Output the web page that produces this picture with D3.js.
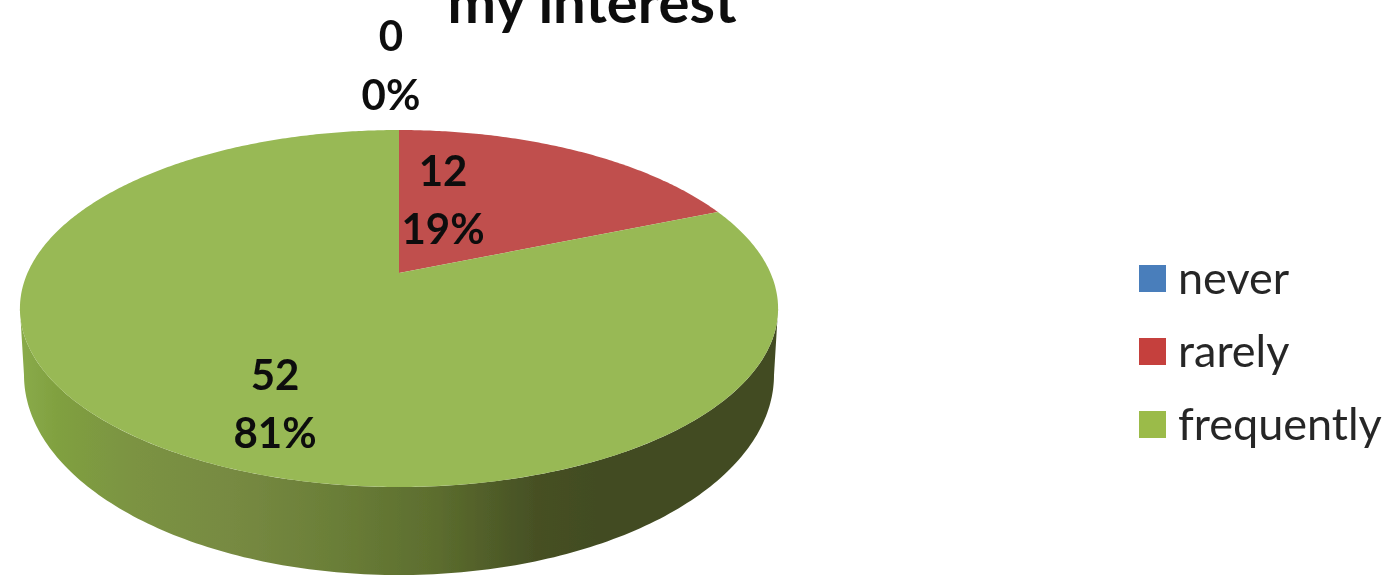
<!DOCTYPE html>
<html><head><meta charset="utf-8">
<script src="https://cdn.jsdelivr.net/npm/d3@7"></script>
<style>html,body{margin:0;padding:0;background:#fff;overflow:hidden}svg{display:block}text{font-family:Lato,"Open Sans",sans-serif;fill:#0b0b0b}</style>
</head><body><svg id="c" width="1393" height="578"></svg>
<script>
const categories = ["never", "rarely", "frequently"];
const values = [0, 12, 52];
const percentLabels = ["0%", "19%", "81%"];
const titleText = "my interest";
const colors = ["#4f81bd", "#c0504d", "#98b955"];
const legendColors = ["#4a7ebb", "#c5403d", "#9bbb49"];

const svg = d3.select("#c");
const defs = svg.append("defs");
const cx = 399, persp = -0.199, halfW = 371.5;
const project = (o) => (t) => {
  const u = Math.sin(t), v = -Math.cos(t), d = 1 + persp * v;
  return [cx + o.w * u / d, (o.b + o.a * v) / d];
};
const topRim = project({w: halfW, a: 117.1, b: 273});
const lowRim = project({w: 367.5, a: 125.4, b: 335.2});

const grad = defs.append("linearGradient").attr("id", "wall")
  .attr("gradientUnits", "userSpaceOnUse").attr("x1", 20).attr("x2", 779).attr("y1", 0).attr("y2", 0);
[[0, "#8aab4a"], [0.05, "#80a040"], [0.15, "#7b9343"], [0.28, "#778a42"], [0.41, "#6b7f38"], [0.55, "#5c6d2e"], [0.68, "#465024"], [0.76, "#424c22"], [1, "#434c22"]]
  .forEach(([o, c]) => grad.append("stop").attr("offset", o).attr("stop-color", c));
defs.append("filter").attr("id", "soft").append("feGaussianBlur").attr("stdDeviation", 0.6);

const line = d3.line();
const chart = svg.append("g").attr("filter", "url(#soft)");
const widest = Math.acos(persp);
const frontT = d3.range(0, 181).map(i => widest + i * (2 * Math.PI - 2 * widest) / 180);
chart.append("path").attr("fill", "url(#wall)")
  .attr("d", line([...frontT.map(topRim), ...frontT.slice().reverse().map(lowRim)]) + "Z");

const arcs = d3.pie().sort(null).value(d => d)(values);
chart.selectAll("path.slice").data(arcs).join("path").attr("class", "slice")
  .attr("fill", (d, i) => colors[i])
  .attr("d", d => {
    const n = Math.max(1, Math.ceil((d.endAngle - d.startAngle) / 0.01));
    const pts = d3.range(n + 1).map(i => topRim(d.startAngle + (d.endAngle - d.startAngle) * i / n));
    return line([[cx, 273], ...pts]) + "Z";
  });

const texts = svg.append("g").attr("filter", "url(#soft)");
texts.append("text").attr("x", 592).attr("y", 23).attr("text-anchor", "middle")
  .attr("font-size", 58).attr("font-weight", 700).text(titleText);

const labelAnchors = [[391, 51, 110], [443, 186, 244], [275, 390, 448]];
arcs.forEach((d, i) => {
  const [x, y1, y2] = labelAnchors[i];
  texts.append("text").attr("x", x).attr("y", y1).attr("text-anchor", "middle")
    .attr("font-size", 42).attr("font-weight", 700).text(d.value);
  texts.append("text").attr("x", x).attr("y", y2).attr("text-anchor", "middle")
    .attr("font-size", 42).attr("font-weight", 700).text(percentLabels[i]);
});

const legendY = d3.scalePoint().domain(categories).range([292, 438]);
categories.forEach((c, i) => {
  const y = legendY(c);
  svg.append("rect").attr("x", 1139).attr("y", y - 27).attr("width", 27).attr("height", 27)
    .attr("fill", legendColors[i]).attr("filter", "url(#soft)");
  texts.append("text").attr("x", 1178).attr("y", y + 2).attr("font-size", 45).attr("fill-opacity", 0.9).text(c);
});
</script></body></html>
